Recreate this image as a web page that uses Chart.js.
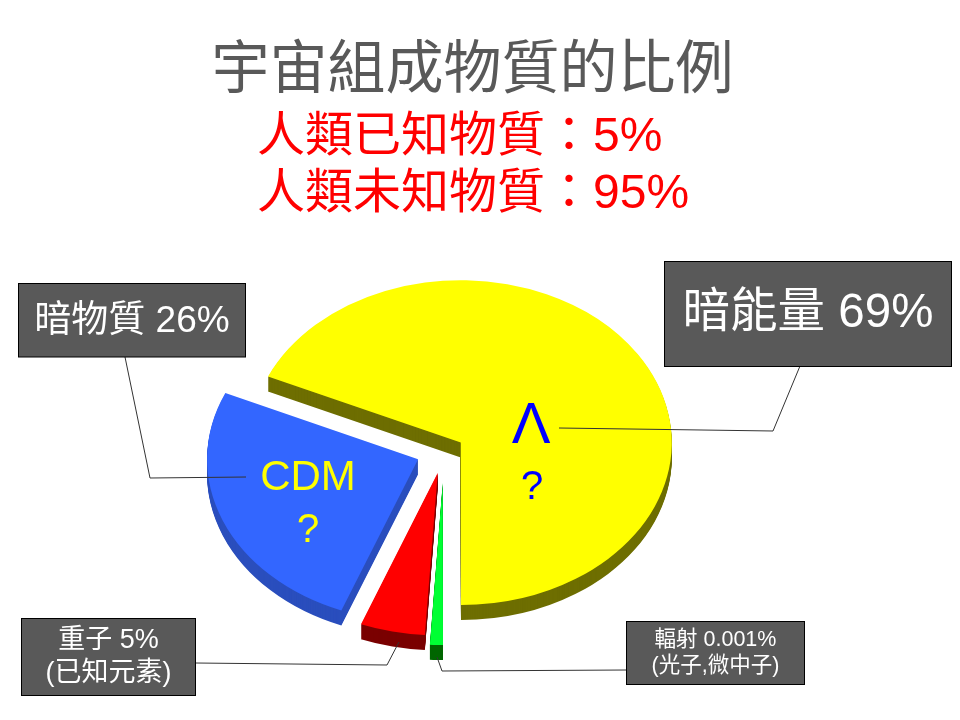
<!DOCTYPE html>
<html>
<head>
<meta charset="utf-8">
<title>宇宙組成物質的比例</title>
<script src="https://cdn.jsdelivr.net/npm/chart.js@4/dist/chart.umd.min.js"></script>
<style>
	html, body { margin: 0; padding: 0; background: #fff; }
	canvas { display: block; }
</style>
</head>
<body>
<canvas id="myChart" width="960" height="720"></canvas>
<script>
const categories = ["暗能量", "輻射", "重子", "暗物質"];
// the green slice is drawn far wider than its 0.001% label
const sliceValues = [69, 1, 5, 26];
const sliceExplode = [20, 41, 29, 28];
const sliceColors = ["#ffff00", "#00ff33", "#ff0000", "#3366ff"];
const wallColors = ["#6e6e00", "#006600", "#7a0000", "#2a4ebd"];

const titleText = "宇宙組成物質的比例";
const redLines = ["人類已知物質：5%", "人類未知物質：95%"];

const FONT = '"Liberation Sans", "Noto Sans CJK TC", sans-serif';

// box: x, y, w, h, font size, text lines
const callouts = [
	{ x: 18.5, y: 283.5, w: 227, h: 73.5, size: 37, lines: ["暗物質 26%"], dy: 2 },
	{ x: 664.5, y: 261.5, w: 287, h: 105, size: 47.5, lines: ["暗能量 69%"], dy: 0 },
	{ x: 21.5, y: 618.5, w: 174, h: 77, size: 27, lines: ["重子 5%", "(已知元素)"], dy: 0 },
	{ x: 626.5, y: 621.5, w: 178, h: 63, size: 21.5, lines: ["輻射 0.001%", "(光子,微中子)"], dy: 0 }
];
const leaders = [
	[[125, 357], [150, 478], [246, 477]],
	[[800, 366], [773, 431], [559, 428]],
	[[196, 663], [387, 665], [399, 642]],
	[[626, 670], [442, 671], [437, 657]]
];
const pieLabels = [
	{ text: "Λ", x: 531, y: 427, size: 58, color: "#0000ff" },
	{ text: "?", x: 532, y: 488, size: 40, color: "#0000ff" },
	{ text: "CDM", x: 308, y: 478, size: 42, color: "#ffff00" },
	{ text: "?", x: 308, y: 531, size: 40, color: "#ffff00" }
];

const PIE_X = 444, PIE_Y = 451, SQUASH = 0.77, DEPTH = 15;

// draw one arc pulled out along its own middle angle
let drawSlice = function(ctx, arc, i, drop, color){
	const mid = (arc.startAngle + arc.endAngle) / 2;
	const ghost = Object.create(arc);
	ghost.options = Object.create(arc.options, { backgroundColor: { value: color } });
	ctx.save();
	ctx.translate(Math.cos(mid) * sliceExplode[i], Math.sin(mid) * sliceExplode[i] + drop / SQUASH);
	ghost.draw(ctx);
	ctx.restore();
};

const pie3d = {
	id: "pie3d",
	beforeDatasetDraw(chart){
		const ctx = chart.ctx;
		const arcs = chart.getDatasetMeta(0).data;
		ctx.save();
		ctx.translate(PIE_X, PIE_Y);
		ctx.scale(1, SQUASH);
		ctx.translate(-arcs[0].x, -arcs[0].y);
		// side walls: the same arcs stacked downwards in the dark colour
		arcs.forEach(function(arc, i){
			for(let d = DEPTH; d > 0; d--){
				drawSlice(ctx, arc, i, d, wallColors[i]);
			}
		});
		arcs.forEach(function(arc, i){
			drawSlice(ctx, arc, i, 0, sliceColors[i]);
		});
		ctx.restore();
		return false;
	},
	afterDraw(chart){
		const ctx = chart.ctx;
		ctx.save();

		// red headline lines
		ctx.fillStyle = "#ff0000";
		ctx.font = "48px " + FONT;
		ctx.textAlign = "left";
		ctx.textBaseline = "middle";
		ctx.fillText(redLines[0], 257, 138);
		ctx.fillText(redLines[1], 257, 195);

		// labels on the slices
		ctx.textAlign = "center";
		pieLabels.forEach(function(l){
			ctx.fillStyle = l.color;
			ctx.font = l.size + "px " + FONT;
			ctx.fillText(l.text, l.x, l.y);
		});

		// leader lines
		ctx.strokeStyle = "#333333";
		ctx.lineWidth = 1;
		leaders.forEach(function(pts){
			ctx.beginPath();
			pts.forEach(function(p, i){
				if(i == 0) ctx.moveTo(p[0], p[1]);
				else ctx.lineTo(p[0], p[1]);
			});
			ctx.stroke();
		});

		// callout boxes
		callouts.forEach(function(c){
			ctx.fillStyle = "#595959";
			ctx.fillRect(c.x, c.y, c.w, c.h);
			ctx.strokeStyle = "#000000";
			ctx.strokeRect(c.x, c.y, c.w, c.h);
			ctx.fillStyle = "#ffffff";
			ctx.font = c.size + "px " + FONT;
			const lineH = Math.min(c.size * 1.22, 33);
			const top = c.y + c.dy + c.h / 2 - lineH * (c.lines.length - 1) / 2;
			c.lines.forEach(function(t, i){
				ctx.fillText(t, c.x + c.w / 2, top + i * lineH);
			});
		});

		ctx.restore();
	}
};

const ctx = document.getElementById('myChart');

new Chart(ctx, {
	type: 'pie',
	data: {
		labels: categories,
		datasets: [{
			data: sliceValues,
			backgroundColor: sliceColors,
			borderWidth: 0,
			radius: 211,
			clip: false
		}]
	},
	options: {
		responsive: false,
		animation: false,
		events: [],
		rotation: -66,
		layout: { padding: { right: 15 } },
		plugins: {
			legend: { display: false },
			tooltip: { enabled: false },
			title: {
				display: true,
				text: titleText,
				color: "#595959",
				font: { size: 58, family: FONT, weight: "normal" },
				padding: { top: 37, bottom: 10 }
			}
		}
	},
	plugins: [pie3d]
});
</script>
</body>
</html>
